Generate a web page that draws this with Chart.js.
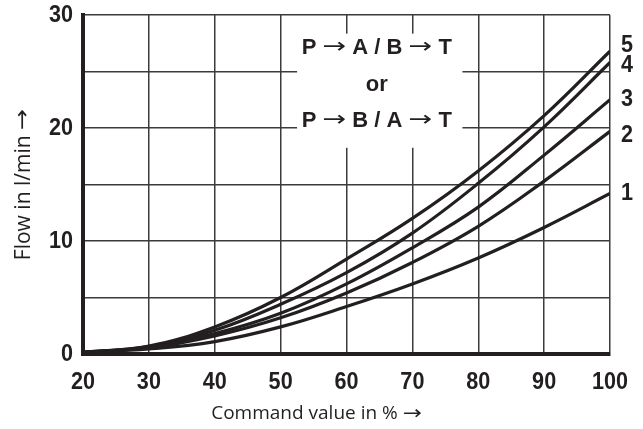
<!DOCTYPE html>
<html>
<head>
<meta charset="utf-8">
<script src="https://cdn.jsdelivr.net/npm/chart.js@4/dist/chart.umd.min.js"></script>
<style>
  html, body { margin: 0; padding: 0; background: #fff; }
  canvas { display: block; }
</style>
</head>
<body>
<canvas id="myChart" width="643" height="429"></canvas>
<script>
// command value in %
const xValues = [20, 30, 40, 50, 60, 70, 80, 90, 100];
// flow in l/min, one array per curve
const curve1 = [0.15, 0.45, 1.1, 2.4, 4.2, 6.2, 8.5, 11.2, 14.2];
const curve2 = [0.15, 0.55, 1.6, 3.2, 5.4, 8.1, 11.3, 15.3, 19.7];
const curve3 = [0.15, 0.6, 1.8, 3.6, 6.2, 9.4, 13.0, 17.6, 22.5];
const curve4 = [0.15, 0.65, 2.1, 4.4, 7.2, 10.7, 15.1, 20.1, 25.8];
const curve5 = [0.15, 0.7, 2.4, 5.0, 8.4, 12.0, 16.2, 21.1, 26.8];
const curveNames = ['1', '2', '3', '4', '5'];
const yTickLabels = ['0', '10', '20', '30'];
const boxLines = ['P \u2192 A / B \u2192 T', 'or', 'P \u2192 B / A \u2192 T'];
const xTitle = 'Command value in % \u2192';
const yTitle = 'Flow in l/min \u2192';

const ink = '#231f20';
const gridColor = '#3b3b3b';
const numFont = 'bold 24px "Liberation Sans", Arial, sans-serif';
const boxFont = '"Liberation Sans", Arial, sans-serif';
const titleFont = '"Open Sans", sans-serif';
const arrowFont = '"DejaVu Sans", sans-serif';
const narrow = 0.9;

const toPoints = vals => vals.map((v, i) => ({ x: xValues[i], y: v }));
const curves = [curve1, curve2, curve3, curve4, curve5];

const data = {
  datasets: curves.map((c, i) => ({
    label: curveNames[i],
    data: toPoints(c),
    borderColor: ink,
    borderWidth: 3.2,
    pointRadius: 0,
    fill: false,
    tension: 0.4
  }))
};

// writes text where every arrow is drawn thin and stretched, like the drawing
function drawMixed(ctx, text, cx, cy, font, arrowSize, stretch) {
  const parts = text.split('\u2192');
  const pieces = [];
  parts.forEach((p, j) => {
    if (p) pieces.push({ s: p, f: font, k: 1 });
    if (j < parts.length - 1) pieces.push({ s: '\u2192', f: arrowSize + 'px ' + arrowFont, k: stretch });
  });
  let w = 0;
  pieces.forEach(p => { ctx.font = p.f; p.w = ctx.measureText(p.s).width * p.k; w += p.w; });
  let px = cx - w / 2;
  ctx.textAlign = 'left';
  ctx.textBaseline = 'middle';
  pieces.forEach(p => {
    ctx.font = p.f;
    ctx.save();
    ctx.translate(px, cy);
    ctx.scale(p.k, 1);
    ctx.fillText(p.s, 0, 0);
    ctx.restore();
    px += p.w;
  });
}

// condensed bold numbers
function drawNum(ctx, s, px, py, align) {
  ctx.save();
  ctx.font = numFont;
  ctx.textAlign = align;
  ctx.textBaseline = 'middle';
  ctx.translate(px, py);
  ctx.scale(narrow, 1);
  ctx.fillText(s, 0, 0);
  ctx.restore();
}

const overlay = {
  id: 'overlay',
  beforeDatasetsDraw(chart) {
    const { ctx, scales: { x, y } } = chart;
    const l = x.getPixelForValue(52.5), r = x.getPixelForValue(77.6);
    const t = y.getPixelForValue(28.35), b = y.getPixelForValue(18.25);
    ctx.save();
    ctx.fillStyle = '#fff';
    ctx.fillRect(l, t, r - l, b - t);
    ctx.fillStyle = ink;
    const cx = (l + r) / 2 - 3;
    const lineY = [27.08, 23.77, 20.65];
    boxLines.forEach((line, i) => {
      drawMixed(ctx, line, cx, y.getPixelForValue(lineY[i]), 'bold 22px ' + boxFont, 21, 1.35);
    });
    ctx.restore();
  },
  afterDatasetsDraw(chart) {
    const { ctx, scales: { x, y }, chartArea } = chart;
    ctx.save();
    ctx.fillStyle = ink;
    // tick labels from the scales
    x.ticks.forEach(t => drawNum(ctx, String(t.value), x.getPixelForValue(t.value), 382, 'center'));
    y.ticks.forEach(t => {
      if (yTickLabels.includes(String(t.value))) {
        drawNum(ctx, String(t.value), chartArea.left - 10, y.getPixelForValue(t.value), 'right');
      }
    });
    // curve numbers at the end of each curve
    const offsets = [0, 4, 0, 3, -6];
    curves.forEach((c, i) => {
      drawNum(ctx, curveNames[i], x.getPixelForValue(100) + 11, y.getPixelForValue(c[c.length - 1]) + offsets[i], 'left');
    });
    // axis titles
    drawMixed(ctx, xTitle, x.getPixelForValue(60) - 30, 414, '19px ' + titleFont, 19, 1.2);
    ctx.save();
    ctx.translate(24, (chartArea.top + chartArea.bottom) / 2);
    ctx.rotate(-Math.PI / 2);
    drawMixed(ctx, yTitle, 0, 0, '21px ' + titleFont, 21, 1.2);
    ctx.restore();
    ctx.restore();
  }
};

const noPad = s => { s.paddingLeft = 0; s.paddingRight = 0; s.paddingTop = 0; s.paddingBottom = 0; };

const config = {
  type: 'line',
  data: data,
  options: {
    responsive: false,
    animation: false,
    events: [],
    layout: { padding: { left: 0, right: 33, top: 15, bottom: 0 } },
    plugins: { legend: { display: false }, tooltip: { enabled: false } },
    scales: {
      x: {
        type: 'linear',
        min: 20,
        max: 100,
        afterFit: s => { s.height = 75; noPad(s); },
        grid: { color: gridColor, lineWidth: 1.5, drawTicks: false },
        border: { display: true, color: ink, width: 4 },
        ticks: { stepSize: 10, display: false }
      },
      y: {
        min: 0,
        max: 30,
        afterFit: s => { s.width = 83; noPad(s); },
        grid: { color: gridColor, lineWidth: 1.5, drawTicks: false },
        border: { display: true, color: ink, width: 4 },
        ticks: { stepSize: 5, display: false }
      }
    }
  },
  plugins: [overlay]
};

var thisChart = new Chart(document.getElementById('myChart'), config);
</script>
</body>
</html>
